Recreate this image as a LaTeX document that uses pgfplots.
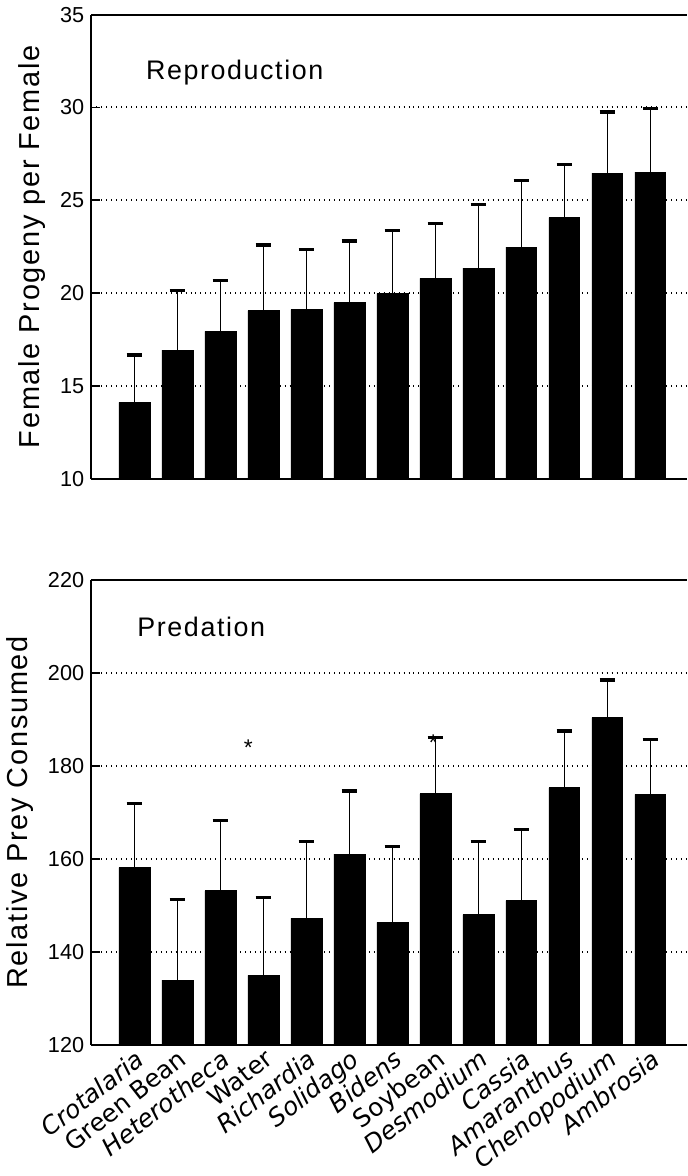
\documentclass[border=0pt]{standalone}
\usepackage{fontspec}
\setmainfont{Liberation Sans}
\newfontfamily\labelfont[LetterSpace=6]{Liberation Sans}
\newfontfamily\namefont{DejaVu Sans}
\usepackage{pgfplots}
\pgfplotsset{compat=1.18}

\pgfplotsset{
  panel/.style={
    scale only axis, width=288.5pt, height=225pt,
    xmin=0, xmax=13.85,
    ybar, bar width=15pt,
    axis y line*=left,
    axis line style={line width=1pt},
    ymajorgrids,
    grid style={dotted, line width=1pt, black},
    tick align=inside, major tick length=4pt,
    ytick style={line width=0.8pt, black},
    /pgf/number format/assume math mode=true,
    yticklabel style={font=\fontsize{10.5}{12}\selectfont},
    ylabel style={font=\labelfont\fontsize{14}{16}\selectfont},
  },
  bars/.style={
    fill=black, draw=black,
    error bars/.cd, y dir=plus, y explicit,
    error bar style={line width=0.8pt, black},
    error mark options={rotate=90, mark size=3.8pt, line width=1.6pt, black},
  },
}

\begin{document}
\begin{tikzpicture}
% reproduction
\begin{axis}[panel, at={(0,274pt)}, anchor=south west,
  ymin=10, ymax=35, ytick={10,15,...,35}, xtick=\empty,
  ylabel={Female Progeny per Female}]
\addplot[bars] coordinates {
  (1,14.13) +- (0,2.54)
  (2,16.93) +- (0,3.22)
  (3,17.94) +- (0,2.76)
  (4,19.06) +- (0,3.53)
  (5,19.11) +- (0,3.24)
  (6,19.50) +- (0,3.31)
  (7,19.98) +- (0,3.39)
  (8,20.80) +- (0,2.96)
  (9,21.35) +- (0,3.43)
  (10,22.48) +- (0,3.58)
  (11,24.07) +- (0,2.87)
  (12,26.46) +- (0,3.30)
  (13,26.52) +- (0,3.42)
};
\node[anchor=west, font=\labelfont\fontsize{13}{15}\selectfont] at (axis cs:1.1,31.9) {Reproduction};
\end{axis}

% predation
\begin{axis}[panel, at={(0,0)}, anchor=south west,
  ymin=120, ymax=220, ytick={120,140,...,220},
  xtick={1,...,13},
  major x tick style={draw=none},
  xticklabels={{\itshape Crotalaria}, Green Bean, {\itshape Heterotheca}, Water,
    {\itshape Richardia}, {\itshape Solidago}, {\itshape Bidens}, Soybean,
    {\itshape Desmodium}, {\itshape Cassia}, {\itshape Amaranthus},
    {\itshape Chenopodium}, {\itshape Ambrosia}},
  xticklabel style={rotate=38, anchor=north east, inner sep=1pt,
    font=\namefont\fontsize{12}{14}\selectfont},
  ylabel={Relative Prey Consumed}]
\addplot[bars] coordinates {
  (1,158.1) +- (0,13.8)
  (2,133.9) +- (0,17.3)
  (3,153.1) +- (0,15.2)
  (4,134.9) +- (0,16.8)
  (5,147.2) +- (0,16.5)
  (6,161.0) +- (0,13.6)
  (7,146.3) +- (0,16.3)
  (8,174.0) +- (0,12.1)
  (9,148.0) +- (0,15.8)
  (10,151.0) +- (0,15.3)
  (11,175.3) +- (0,12.2)
  (12,190.4) +- (0,8.1)
  (13,173.9) +- (0,11.8)
};
\node[anchor=west, font=\labelfont\fontsize{13}{15}\selectfont] at (axis cs:0.9,210) {Predation};
\node[font=\fontsize{11}{11}\selectfont] at (axis cs:3.65,184) {*};
\node[font=\fontsize{11}{11}\selectfont] at (axis cs:7.95,185) {*};
\end{axis}
\end{tikzpicture}
\end{document}
